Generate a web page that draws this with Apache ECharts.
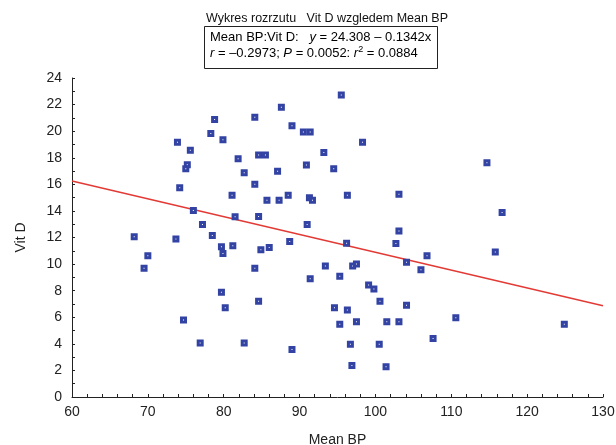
<!DOCTYPE html>
<html>
<head>
<meta charset="utf-8">
<script src="https://cdn.jsdelivr.net/npm/echarts@6/dist/echarts.min.js"></script>
<style>html,body{margin:0;padding:0;background:#fff}#c{width:616px;height:445px}</style>
</head>
<body>
<div id="c"></div>
<script>
const meanBP = [73.9,78.8,78.3,79.9,75.6,81.9,75.2,75.0,74.2,81.1,76.0,81.5,77.2,68.2,73.7,78.5,79.7,79.9,81.2,70.0,69.5,79.7,80.2,74.7,76.9,
95.5,87.6,84.1,89.0,90.5,91.4,98.3,93.2,84.6,85.5,82.7,87.1,90.9,94.5,84.1,85.7,87.3,88.5,91.3,91.7,96.3,103.1,84.6,91.0,103.1,114.7,116.7,
84.9,86.0,88.7,96.2,102.7,84.1,93.4,97.0,97.5,91.4,95.3,99.1,99.8,100.6,84.6,94.6,96.3,95.3,97.5,101.5,103.1,82.7,89.0,96.7,100.5,96.9,101.4,
104.1,106.8,106.0,115.8,104.1,110.6,107.6,124.9];
const vitD = [19.17,20.88,19.83,19.35,18.57,17.93,17.48,17.18,15.75,15.18,14.03,13.57,12.98,12.05,11.88,12.15,11.3,10.8,11.37,10.62,9.68,7.88,6.72,5.8,4.07,
22.73,21.8,21.05,20.4,19.93,19.93,19.17,18.4,18.2,18.2,16.88,16.98,17.45,17.18,16.0,14.8,14.8,15.18,15.0,14.8,15.18,15.25,13.58,12.98,12.48,17.63,13.88,
11.07,11.25,11.7,11.57,11.55,9.68,9.85,9.85,10.0,8.9,9.08,8.42,8.12,7.2,7.2,6.72,6.55,5.47,5.67,5.67,5.67,4.07,3.57,3.97,3.97,2.37,2.27,
10.13,10.62,9.57,10.9,6.9,5.97,4.4,5.47];
const intercept = 24.308;
const slope = -0.1342;
const xRange = [60, 130];
const yRange = [0, 24];

const points = meanBP.map((x, i) => [x, vitD[i]]);
const fitLine = xRange.map(x => [x, intercept + slope * x]);

const chart = echarts.init(document.getElementById('c'));
const font = 'Liberation Sans, Arial, sans-serif';
chart.setOption({
  animation: false,
  backgroundColor: '#fff',
  title: {
    text: 'Wykres rozrzutu   Vit D wzgledem Mean BP',
    left: 322, top: 7, textAlign: 'center',
    textStyle: { fontFamily: font, fontSize: 12.5, fontWeight: 'normal', color: '#111' }
  },
  graphic: [{
    type: 'rect', left: 204, top: 26,
    shape: { width: 233, height: 42 },
    style: { fill: '#fff', stroke: '#222', lineWidth: 1 }
  }, {
    type: 'text', left: 210, top: 31,
    style: {
      text: '{n|Mean BP:Vit D:   }{i|y}{n| = 24.308 \u2013 0.1342x}\n{i|r}{n| = \u20130.2973; }{i|P}{n| = 0.0052: }{i|r}{s|2}{n| = 0.0884}',
      rich: {
        n: { fontFamily: font, fontSize: 13, color: '#111', lineHeight: 16 },
        i: { fontFamily: font, fontSize: 13, fontStyle: 'italic', color: '#111', lineHeight: 16 },
        s: { fontFamily: font, fontSize: 9, color: '#111', lineHeight: 16, padding: [0, 0, 7, 0] }
      }
    }
  }],
  grid: { left: 72, right: 13, top: 78, bottom: 48, outerBoundsMode: 'none', containLabel: false },
  xAxis: {
    type: 'value', min: xRange[0], max: xRange[1], interval: 10,
    name: 'Mean BP', nameLocation: 'middle', nameGap: 36,
    nameTextStyle: { fontFamily: font, fontSize: 14, color: '#222' },
    axisLine: { show: true, onZero: false, lineStyle: { color: '#222', width: 1 } },
    axisTick: { show: true, inside: true, length: 3, lineStyle: { color: '#222' } },
    minorTick: { show: true, splitNumber: 5, length: 3, lineStyle: { color: '#222' } },
    axisLabel: { fontFamily: font, fontSize: 14, color: '#222', margin: 8 },
    splitLine: { show: false }
  },
  yAxis: {
    type: 'value', min: yRange[0], max: yRange[1], interval: 2,
    name: 'Vit D', nameLocation: 'middle', nameGap: 44, nameRotate: 90,
    nameTextStyle: { fontFamily: font, fontSize: 14, color: '#222' },
    axisLine: { show: true, onZero: false, lineStyle: { color: '#222', width: 1 } },
    axisTick: { show: true, inside: true, length: 3, lineStyle: { color: '#222' } },
    minorTick: { show: true, splitNumber: 2, length: 3, lineStyle: { color: '#222' } },
    axisLabel: { fontFamily: font, fontSize: 14, color: '#222', margin: 10 },
    splitLine: { show: false }
  },
  series: [{
    type: 'line', data: fitLine, symbol: 'none',
    lineStyle: { color: '#e23a35', width: 1.5 }, z: 1
  }, {
    type: 'scatter', data: points, symbol: 'rect', symbolSize: 4,
    itemStyle: { color: '#ffffff', borderColor: '#3243a3', borderWidth: 3, opacity: 1 }, z: 3
  }]
});
</script>
</body>
</html>
